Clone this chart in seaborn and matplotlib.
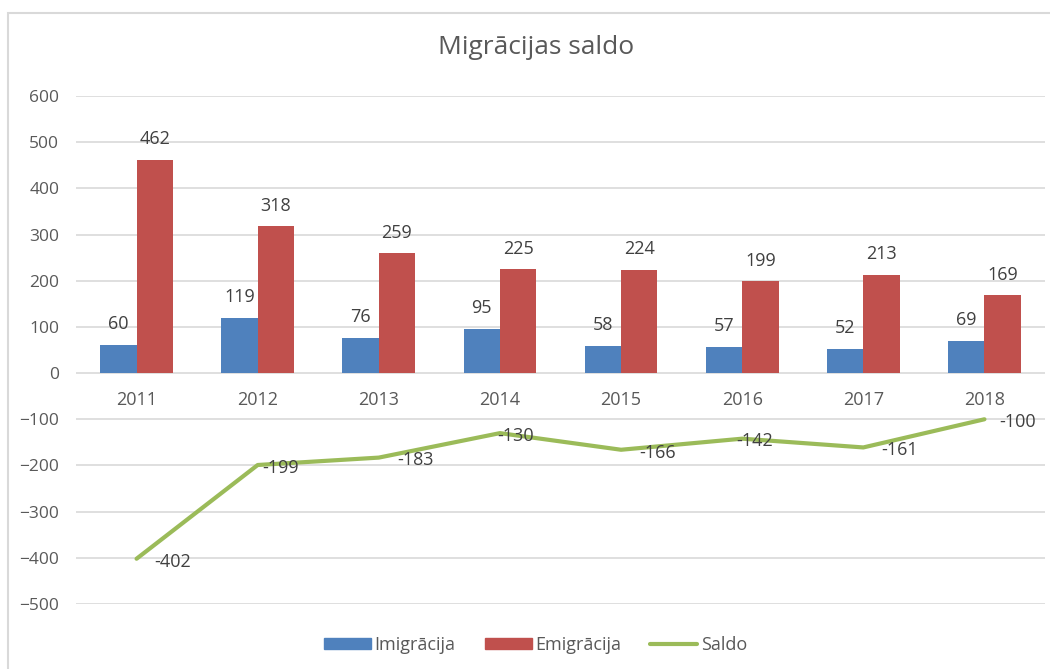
import matplotlib
matplotlib.use("Agg")
import matplotlib.pyplot as plt
import matplotlib.patches as mpatches
from matplotlib.lines import Line2D
import seaborn as sns
import pandas as pd
import numpy as np

# ==============================
# Data
# ==============================
years = ["2011", "2012", "2013", "2014", "2015", "2016", "2017", "2018"]
imigracija = [60, 119, 76, 95, 58, 57, 52, 69]
emigracija = [462, 318, 259, 225, 224, 199, 213, 169]
saldo = [-402, -199, -183, -130, -166, -142, -161, -100]

# horizontal nudge of the saldo labels (points), as placed in the original
saldo_dx = [13, 3, 13, -2, 13, -4, 13, 11]

BLUE = "#4F81BD"
RED = "#C0504D"
GREEN = "#9BBB59"
TXT = "#595959"
LBL = "#404040"
GRID = "#D9D9D9"

sns.set_style("white")
plt.rcParams["font.family"] = ["Open Sans", "DejaVu Sans"]

df = pd.DataFrame({
    "year": years * 2,
    "value": imigracija + emigracija,
    "series": ["Imigrācija"] * len(years) + ["Emigrācija"] * len(years),
})

fig = plt.figure(figsize=(10.5, 6.69), dpi=100)
ax = fig.add_axes([76 / 1050, 1 - 604 / 669, (1045 - 76) / 1050, (604 - 96) / 669])

sns.barplot(data=df, x="year", y="value", hue="series",
            palette=[BLUE, RED], width=0.6, gap=0, saturation=1,
            linewidth=0, edgecolor="none", legend=False, ax=ax, zorder=3)

xpos = np.arange(len(years))
sns.lineplot(x=xpos, y=saldo, color=GREEN, lw=3, ax=ax, zorder=4)

ax.set_ylim(-500, 600)
ax.set_xlim(-0.5, len(years) - 0.5)
ax.set_yticks(range(-500, 601, 100))
for y in range(-500, 601, 100):
    ax.axhline(y, color=GRID, lw=1.2, zorder=1)
for s in ax.spines.values():
    s.set_visible(False)
ax.tick_params(axis="y", length=0, labelsize=12.5, labelcolor=TXT, pad=12)
ax.set_xticks([])
ax.set_xlabel("")
ax.set_ylabel("")

# category labels sit just under the zero line
for i, yr in enumerate(years):
    ax.text(i, -58, yr, ha="center", va="center", fontsize=13, color=TXT)

# bar labels
for i in range(len(years)):
    ax.text(i - 0.15, imigracija[i] + 46, str(imigracija[i]), ha="center",
            va="center", fontsize=13, color=LBL, zorder=5)
    ax.text(i + 0.15, emigracija[i] + 44, str(emigracija[i]), ha="center",
            va="center", fontsize=13, color=LBL, zorder=5)

# line labels (right of points)
for i, v in enumerate(saldo):
    ax.annotate(str(v), (i, v), xytext=(saldo_dx[i], -2), textcoords="offset points",
                ha="left", va="center", fontsize=13, color=LBL, zorder=5)

fig.text(0.511, 1 - 47 / 669, "Migrācijas saldo", ha="center", va="center",
         fontsize=19, color=TXT)

handles = [
    mpatches.Patch(color=BLUE, label="Imigrācija"),
    mpatches.Patch(color=RED, label="Emigrācija"),
    Line2D([0], [0], color=GREEN, lw=3, label="Saldo"),
]
fig.legend(handles=handles, loc="center", bbox_to_anchor=(0.51, 1 - 645 / 669),
           ncol=3, frameon=False, fontsize=13, labelcolor=TXT,
           handlelength=2.6, handleheight=0.55, handletextpad=0.2, columnspacing=1.6)

# chart border
fig.add_artist(mpatches.Rectangle((8 / 1050, -0.05), 1.1, 1 - 13 / 669 + 0.05,
                                  transform=fig.transFigure, fill=False,
                                  edgecolor=GRID, lw=1.5))

fig.savefig("out.png", dpi=100)
